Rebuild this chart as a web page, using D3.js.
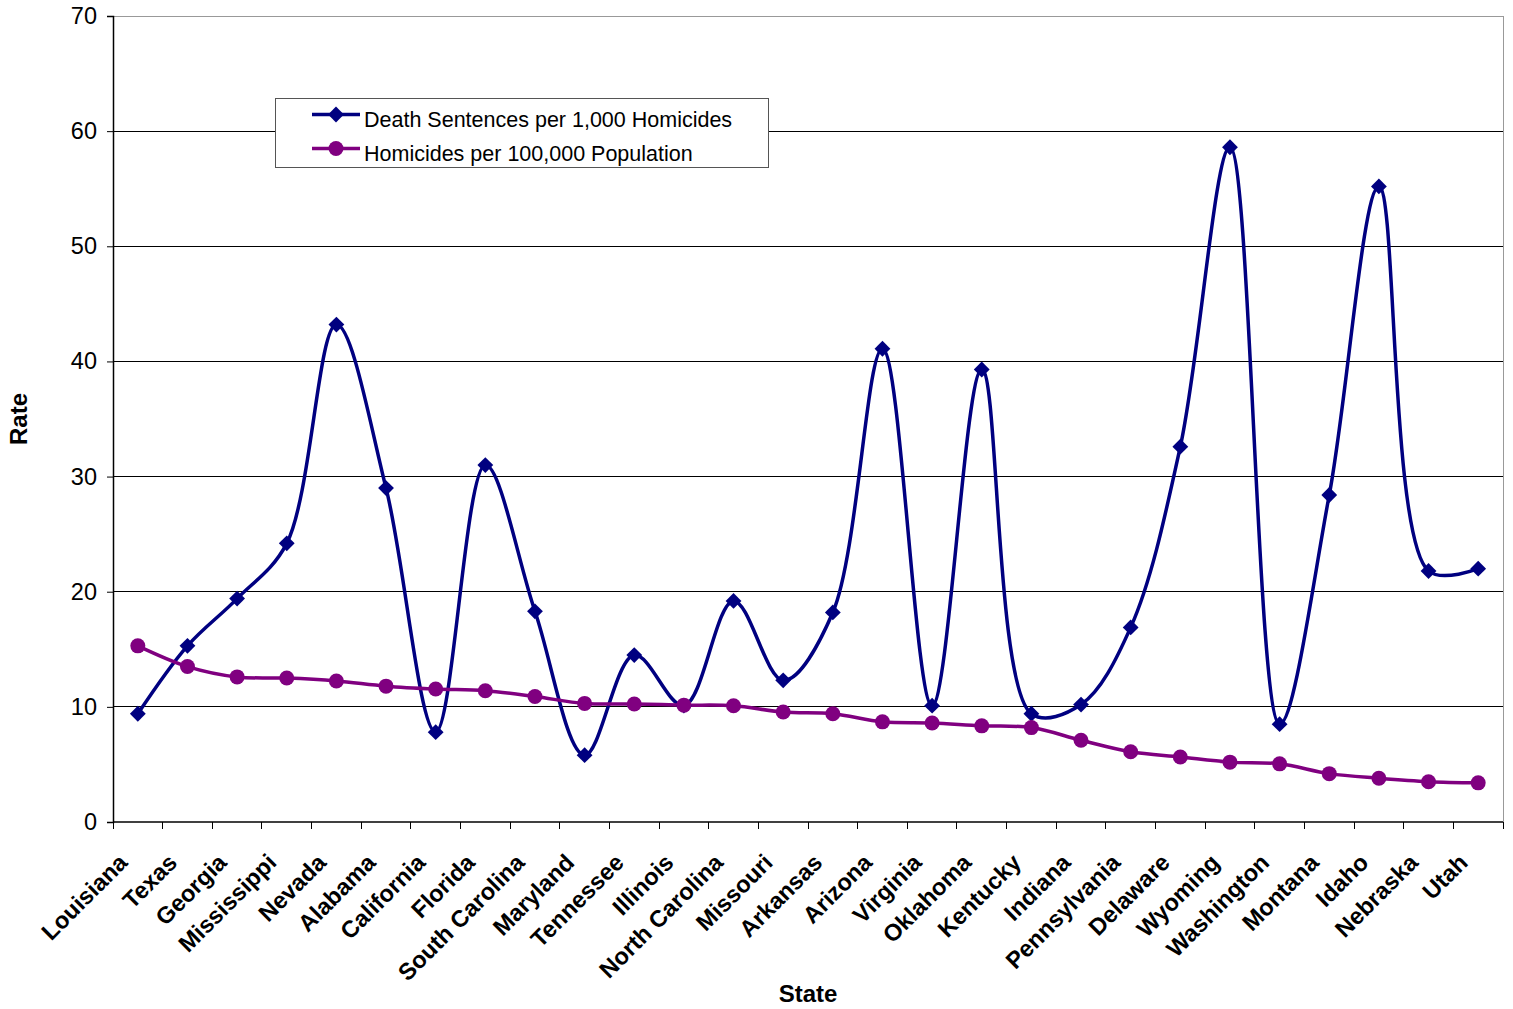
<!DOCTYPE html>
<html><head><meta charset="utf-8">
<script src="https://cdn.jsdelivr.net/npm/d3@7"></script>
<style>body{margin:0;background:#fff}svg{display:block}</style>
</head><body>
<script>
const states = ["Louisiana","Texas","Georgia","Mississippi","Nevada","Alabama","California","Florida","South Carolina","Maryland","Tennessee","Illinois","North Carolina","Missouri","Arkansas","Arizona","Virginia","Oklahoma","Kentucky","Indiana","Pennsylvania","Delaware","Wyoming","Washington","Montana","Idaho","Nebraska","Utah"];
const deathSentences = [9.4,15.3,19.4,24.2,43.2,29.0,7.8,31.0,18.3,5.8,14.5,10.1,19.2,12.3,18.2,41.1,10.1,39.3,9.4,10.2,16.9,32.6,58.6,8.5,28.4,55.2,21.8,22.0];
const homicides = [15.3,13.5,12.6,12.5,12.25,11.8,11.55,11.4,10.9,10.3,10.25,10.15,10.1,9.55,9.4,8.7,8.6,8.35,8.2,7.1,6.1,5.65,5.2,5.05,4.2,3.8,3.5,3.4];
const yTicks = [0,10,20,30,40,50,60,70];
const seriesNames = ["Death Sentences per 1,000 Homicides","Homicides per 100,000 Population"];
const colors = ["#000080","#800080"];

const W=1513,H=1009;
const m={l:113,r:10,t:16,b:187};
const font="Liberation Sans, Arial, sans-serif";
const svg=d3.select("body").append("svg").attr("width",W).attr("height",H);
const x=d3.scaleBand().domain(states).range([m.l,W-m.r]);
const y=d3.scaleLinear().domain([0,70]).range([H-m.b,m.t]);
const cx=d=>x(d)+x.bandwidth()/2;

// gridlines
svg.append("g").selectAll("line").data(yTicks.filter(t=>t>0)).join("line")
  .attr("x1",m.l).attr("x2",W-m.r).attr("y1",d=>y(d)).attr("y2",d=>y(d))
  .attr("stroke",d=>d===70?"#999":"#000").attr("stroke-width",1).attr("shape-rendering","crispEdges");
svg.append("line").attr("x1",W-m.r).attr("x2",W-m.r).attr("y1",m.t).attr("y2",H-m.b)
  .attr("stroke","#999").attr("shape-rendering","crispEdges");

// y axis
const ya=svg.append("g").attr("transform",`translate(${m.l},0)`)
  .call(d3.axisLeft(y).tickValues(yTicks).tickSize(6).tickPadding(10));
ya.select(".domain").attr("stroke","#000").attr("stroke-width",1.5);
ya.selectAll("line").attr("stroke","#000");
ya.selectAll("text").attr("font-family",font).attr("font-size",23.5).attr("fill","#000");

// x axis
const xa=svg.append("g").attr("transform",`translate(0,${H-m.b})`);
xa.append("line").attr("x1",m.l).attr("x2",W-m.r).attr("y1",0).attr("y2",0).attr("stroke","#000").attr("stroke-width",1.5);
const bounds=states.map(s=>x(s)).concat([W-m.r]);
xa.selectAll("line.t").data(bounds).join("line").attr("class","t")
  .attr("x1",d=>d).attr("x2",d=>d).attr("y1",0).attr("y2",7).attr("stroke","#000").attr("shape-rendering","crispEdges");
svg.append("g").selectAll("text").data(states).join("text")
  .attr("transform",d=>`translate(${cx(d)-9},${H-m.b+42}) rotate(-45)`)
  .attr("text-anchor","end").attr("font-family",font)
  .attr("font-weight","bold").attr("font-size",23.5).text(d=>d);

// axis titles
svg.append("text").attr("x",(m.l+W-m.r)/2).attr("y",1002).attr("text-anchor","middle")
  .attr("font-family",font).attr("font-weight","bold").attr("font-size",24).text("State");
svg.append("text").attr("transform",`translate(27,${(m.t+H-m.b)/2}) rotate(-90)`).attr("text-anchor","middle")
  .attr("font-family",font).attr("font-weight","bold").attr("font-size",24).text("Rate");

// lines
const line=d3.line().x((d,i)=>cx(states[i])).y(d=>y(d)).curve(d3.curveCatmullRom.alpha(0.5));
[deathSentences,homicides].forEach((vals,k)=>{
  svg.append("path").datum(vals).attr("d",line).attr("fill","none")
    .attr("stroke",colors[k]).attr("stroke-width",3.5);
});
// markers
const diamond=d3.symbol().type(d3.symbolSquare).size(125);
svg.append("g").selectAll("path").data(deathSentences).join("path")
  .attr("transform",(d,i)=>`translate(${cx(states[i])},${y(d)}) rotate(45)`)
  .attr("d",diamond).attr("fill",colors[0]);
svg.append("g").selectAll("circle").data(homicides).join("circle")
  .attr("cx",(d,i)=>cx(states[i])).attr("cy",d=>y(d)).attr("r",7.5).attr("fill",colors[1]);

// legend
const lg=svg.append("g");
lg.append("rect").attr("x",275.5).attr("y",98.5).attr("width",493).attr("height",69)
  .attr("fill","#fff").attr("stroke","#555").attr("stroke-width",1);
seriesNames.forEach((n,k)=>{
  const yy=114.5+k*34;
  lg.append("line").attr("x1",312).attr("x2",360).attr("y1",yy).attr("y2",yy).attr("stroke",colors[k]).attr("stroke-width",3.5);
  if(k===0) lg.append("path").attr("transform",`translate(336,${yy}) rotate(45)`).attr("d",diamond).attr("fill",colors[k]);
  else lg.append("circle").attr("cx",336).attr("cy",yy).attr("r",7.5).attr("fill",colors[k]);
  lg.append("text").attr("x",364).attr("y",yy+12).attr("font-family",font)
    .attr("font-size",21.5).text(n);
});
</script>
</body></html>
